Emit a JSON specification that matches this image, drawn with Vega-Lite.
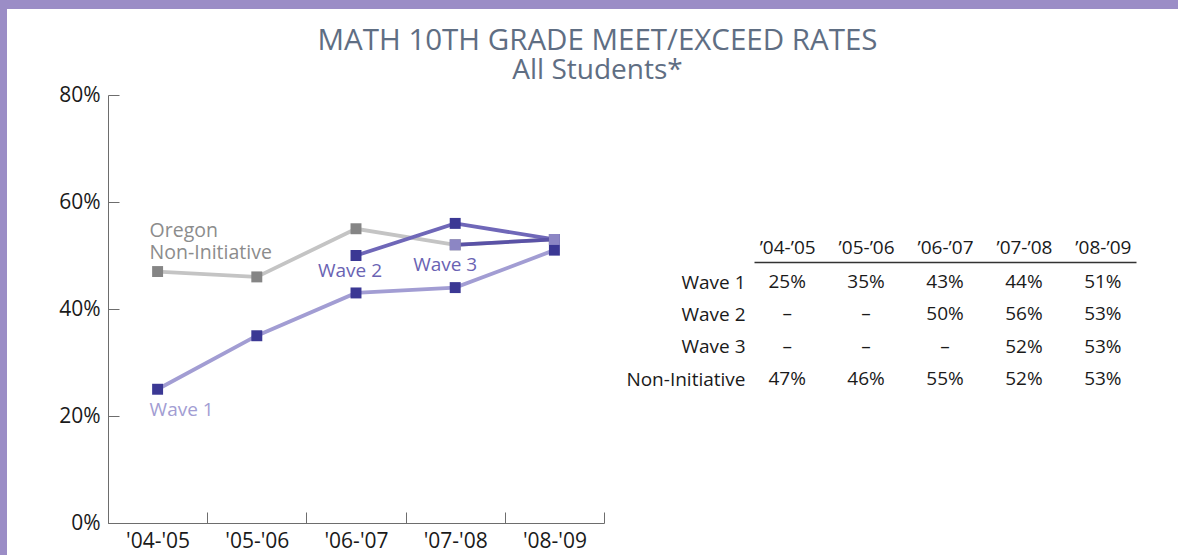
{
  "$schema": "https://vega.github.io/schema/vega-lite/v6.json",
  "autosize": "none",
  "width": 1171,
  "height": 546,
  "padding": {"left": 7, "top": 9, "right": 0, "bottom": 0},
  "background": "#9b8dc6",
  "config": {
    "view": {"fill": "white", "stroke": null},
    "font": "Open Sans",
    "axis": {"labelFont": "Open Sans", "labelColor": "#1a1a1a", "domainColor": "#6d6d6d", "tickColor": "#6d6d6d", "grid": false}
  },
  "title": {
    "text": "MATH 10TH GRADE MEET/EXCEED RATES",
    "subtitle": "All Students*",
    "anchor": "middle",
    "frame": "group",
    "offset": -77,
    "dx": 5,
    "font": "Open Sans",
    "subtitleFont": "Open Sans",
    "fontSize": 29.5,
    "subtitleFontSize": 28,
    "fontWeight": "normal",
    "color": "#5f6e83",
    "subtitleColor": "#5f6e83",
    "subtitlePadding": 1
  },
  "data": {
    "values": [
      {"series": "Non-Initiative", "year": "'04-'05", "v": 0.47},
      {"series": "Non-Initiative", "year": "'05-'06", "v": 0.46},
      {"series": "Non-Initiative", "year": "'06-'07", "v": 0.55},
      {"series": "Non-Initiative", "year": "'07-'08", "v": 0.52},
      {"series": "Non-Initiative", "year": "'08-'09", "v": 0.53},
      {"series": "Wave 1", "year": "'04-'05", "v": 0.25},
      {"series": "Wave 1", "year": "'05-'06", "v": 0.35},
      {"series": "Wave 1", "year": "'06-'07", "v": 0.43},
      {"series": "Wave 1", "year": "'07-'08", "v": 0.44},
      {"series": "Wave 1", "year": "'08-'09", "v": 0.51},
      {"series": "Wave 2", "year": "'04-'05", "v": null},
      {"series": "Wave 2", "year": "'05-'06", "v": null},
      {"series": "Wave 2", "year": "'06-'07", "v": 0.50},
      {"series": "Wave 2", "year": "'07-'08", "v": 0.56},
      {"series": "Wave 2", "year": "'08-'09", "v": 0.53},
      {"series": "Wave 3", "year": "'04-'05", "v": null},
      {"series": "Wave 3", "year": "'05-'06", "v": null},
      {"series": "Wave 3", "year": "'06-'07", "v": null},
      {"series": "Wave 3", "year": "'07-'08", "v": 0.52},
      {"series": "Wave 3", "year": "'08-'09", "v": 0.53}
    ]
  },
  "layer": [
    {
      "transform": [{"filter": "datum.v != null"}],
      "encoding": {
        "x": {
          "field": "year", "type": "ordinal",
          "scale": {"type": "band", "domain": ["'04-'05", "'05-'06", "'06-'07", "'07-'08", "'08-'09"], "range": [101, 597], "paddingInner": 0, "paddingOuter": 0},
          "axis": {"orient": "bottom", "offset": -32, "tickBand": "extent", "tickSize": -11, "labelPadding": 18, "labelAngle": 0, "labelFontSize": 21, "title": null}
        },
        "y": {
          "field": "v", "type": "quantitative",
          "scale": {"domain": [0, 0.8], "range": [514, 86], "nice": false},
          "axis": {"orient": "left", "offset": -101, "values": [0, 0.2, 0.4, 0.6, 0.8], "format": ".0%", "tickSize": -11, "labelPadding": 19, "labelFontSize": 21, "title": null}
        }
      },
      "layer": [
        {
          "mark": {"type": "line", "strokeWidth": 3.8},
          "encoding": {
            "stroke": {"field": "series", "type": "nominal", "scale": {"domain": ["Non-Initiative", "Wave 1", "Wave 2", "Wave 3"], "range": ["#c4c4c4", "#a29dd3", "#6f67b8", "#5a52a6"]}, "legend": null}
          }
        },
        {
          "mark": {"type": "point", "shape": "square", "filled": true, "size": 120, "opacity": 1},
          "encoding": {
            "fill": {"field": "series", "type": "nominal", "scale": {"domain": ["Non-Initiative", "Wave 1", "Wave 2", "Wave 3"], "range": ["#858585", "#3b3894", "#3b3894", "#8c86c4"]}, "legend": null}
          }
        },
        {
          "transform": [{"filter": "datum.series == 'Non-Initiative' && datum.year == \"'04-'05\""}],
          "mark": {"type": "text", "align": "left", "baseline": "bottom", "dx": -8, "dy": -31, "fontSize": 19.5, "lineHeight": 22, "color": "#8c8c8c"},
          "encoding": {"text": {"value": ["Oregon", "Non-Initiative"]}}
        },
        {
          "transform": [{"filter": "datum.series == 'Wave 1' && datum.year == \"'04-'05\""}],
          "mark": {"type": "text", "align": "left", "baseline": "middle", "dx": -8, "dy": 21, "fontSize": 19, "color": "#a29dd3"},
          "encoding": {"text": {"field": "series"}}
        },
        {
          "transform": [{"filter": "datum.series == 'Wave 2' && datum.year == \"'06-'07\""}],
          "mark": {"type": "text", "align": "center", "baseline": "middle", "dx": -6, "dy": 15, "fontSize": 19, "color": "#6a63b3"},
          "encoding": {"text": {"field": "series"}}
        },
        {
          "transform": [{"filter": "datum.series == 'Wave 3' && datum.year == \"'07-'08\""}],
          "mark": {"type": "text", "align": "center", "baseline": "middle", "dx": -10, "dy": 20, "fontSize": 19, "color": "#6a63b3"},
          "encoding": {"text": {"field": "series"}}
        }
      ]
    },
    {
      "mark": {"type": "text", "align": "center", "baseline": "middle", "fontSize": 19, "color": "#1a1a1a"},
      "encoding": {
        "x": {
          "field": "year", "type": "ordinal",
          "scale": {"type": "point", "domain": ["'04-'05", "'05-'06", "'06-'07", "'07-'08", "'08-'09"], "range": [747, 1129], "padding": 0.42},
          "axis": {"orient": "top", "offset": -253, "ticks": false, "domainColor": "#333333", "domainWidth": 1.5, "labelPadding": 5, "labelFontSize": 19, "labelAngle": 0, "labelExpr": "'’' + slice(datum.label, 1, 4) + '’' + slice(datum.label, 5)", "title": null}
        },
        "y": {
          "field": "series", "type": "ordinal",
          "scale": {"type": "point", "domain": ["Wave 1", "Wave 2", "Wave 3", "Non-Initiative"], "range": [273, 370], "padding": 0},
          "axis": {"orient": "left", "offset": -743, "ticks": false, "domain": false, "labelPadding": 5, "labelFontSize": 19, "title": null}
        },
        "text": {"condition": {"test": "datum.v == null", "value": "–"}, "field": "v", "type": "quantitative", "format": ".0%"}
      }
    }
  ],
  "resolve": {
    "scale": {"x": "independent", "y": "independent"},
    "axis": {"x": "independent", "y": "independent"}
  }
}
